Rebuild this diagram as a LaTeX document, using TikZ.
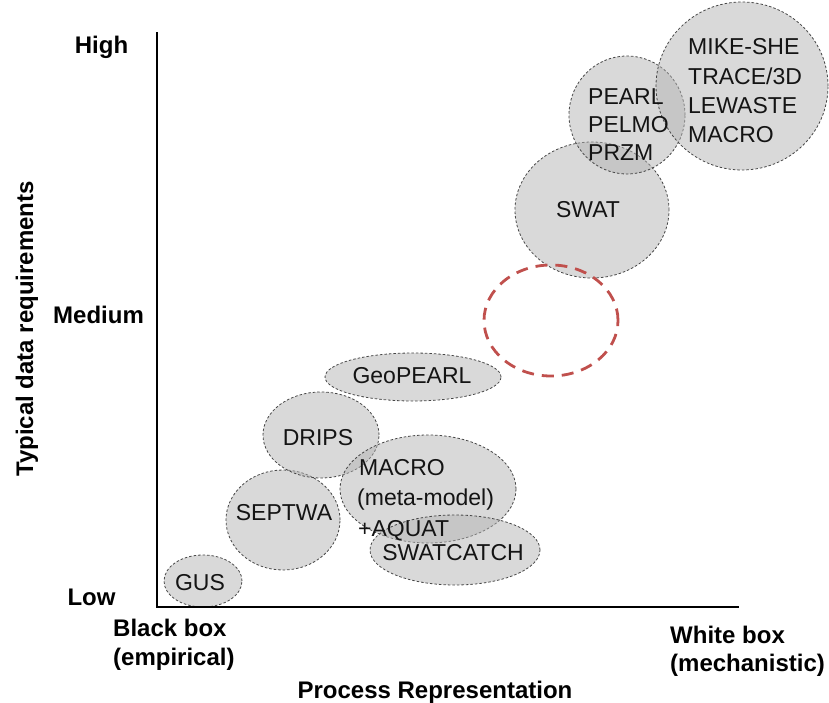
\documentclass[tikz,border=0pt]{standalone}
\usepackage{fontspec}
\setmainfont{Liberation Sans}
\usetikzlibrary{shapes.geometric}
\definecolor{bubblefill}{RGB}{179,179,179}
\definecolor{bubbleline}{RGB}{70,70,70}
\definecolor{redline}{RGB}{192,80,77}
\definecolor{txt}{RGB}{20,20,20}
\tikzset{
  bubble/.style={ellipse, draw=bubbleline, line width=0.8pt, dash pattern=on 2.5pt off 2pt,
    fill=bubblefill, fill opacity=0.5, draw opacity=1, inner sep=0pt},
  redbubble/.style={ellipse, draw=redline, line width=2.8pt, dash pattern=on 12pt off 8pt, inner sep=0pt},
  modeltext/.style={text=txt, font=\fontsize{23}{28}\selectfont, inner sep=0pt, anchor=base},
  modelleft/.style={modeltext, anchor=base west},
  axistext/.style={text=black, font=\fontsize{24}{29}\selectfont\bfseries, inner sep=0pt, anchor=base},
  axisleft/.style={axistext, anchor=base west},
}
\begin{document}
\begin{tikzpicture}[x=1pt,y=-1pt]
\useasboundingbox (0,0) rectangle (829,703);
% bubbles
\node[bubble, minimum width=78pt, minimum height=52pt] (gus) at (203,581) {};
\node[bubble, minimum width=114pt, minimum height=100pt] (septwa) at (283,520) {};
\node[bubble, minimum width=116pt, minimum height=86pt] (drips) at (321,435) {};
\node[bubble, minimum width=176pt, minimum height=48pt] (geopearl) at (413,377) {};
\node[bubble, minimum width=176pt, minimum height=108pt] (macro) at (428,489) {};
\node[bubble, minimum width=170pt, minimum height=70pt] (swatcatch) at (455,550) {};
\node[bubble, minimum width=154pt, minimum height=136pt] (swat) at (592,210) {};
\node[bubble, minimum width=116pt, minimum height=118pt] (pearl) at (627,115) {};
\node[bubble, minimum width=172pt, minimum height=168pt] (mike) at (742,86) {};
\node[redbubble, minimum width=134pt, minimum height=111pt] (gap) at (551,320.5) {};
% axes
\coordinate (ytop) at (157,33);
\coordinate (origin) at (157,607);
\coordinate (xend) at (738,607);
\draw[line width=2pt, line cap=rect] (ytop) -- (origin) -- (xend);
% bubble texts
\node[modeltext] (tgus) at (200,590) {GUS};
\node[modeltext] (tseptwa) at (284,520) {SEPTWA};
\node[modeltext] (tdrips) at (318,445) {DRIPS};
\node[modeltext] (tgeopearl) at (412,383) {GeoPEARL};
\node[modelleft] (tmacro1) at (359,475) {MACRO};
\node[modelleft] (tmacro2) at (357,505.5) {(meta-model)};
\node[modelleft] (tmacro3) at (358,536) {+AQUAT};
\node[modeltext] (tswatcatch) at (453,560) {SWATCATCH};
\node[modeltext] (tswat) at (588,218) {SWAT};
\node[modelleft] (tpearl1) at (588,105) {PEARL};
\node[modelleft] (tpearl2) at (588,133) {PELMO};
\node[modelleft] (tpearl3) at (588,161) {PRZM};
\node[modelleft] (tmike1) at (688,55) {MIKE-SHE};
\node[modelleft] (tmike2) at (688,84.3) {TRACE/3D};
\node[modelleft] (tmike3) at (688,113.6) {LEWASTE};
\node[modelleft] (tmike4) at (688,143) {MACRO};
% axis labels
\node[axistext] (high) at (101.5,54) {High};
\node[axistext] (medium) at (98.5,323) {Medium};
\node[axistext] (low) at (91.5,605) {Low};
\node[axisleft] (black1) at (113,636) {Black box};
\node[axisleft] (black2) at (113,665) {(empirical)};
\node[axisleft] (white1) at (670,643) {White box};
\node[axisleft] (white2) at (670,671) {(mechanistic)};
\node[axistext] (xlabel) at (435,698) {Process Representation};
\node[axistext, rotate=90] (ylabel) at (33,329) {Typical data requirements};
\end{tikzpicture}
\end{document}
